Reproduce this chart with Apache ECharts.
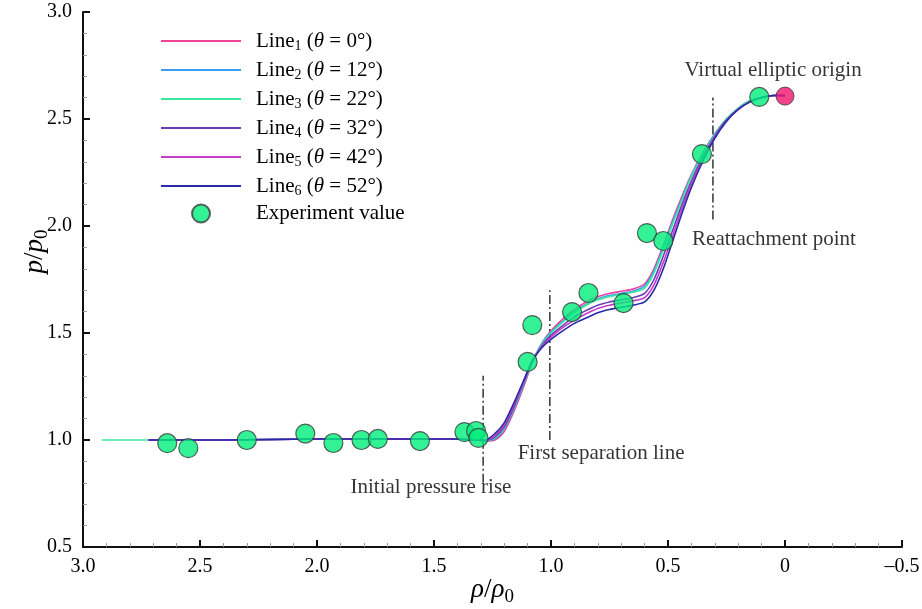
<!DOCTYPE html>
<html>
<head>
<meta charset="utf-8">
<script src="https://cdn.jsdelivr.net/npm/echarts@6/dist/echarts.min.js"></script>
<style>html,body{margin:0;padding:0;background:#fff}#c{width:922px;height:609px}</style>
</head>
<body>
<div id="c"></div>
<script>
// ---- data ----
var lineX = [2.72, 2.4, 2.0, 1.6, 1.4, 1.32, 1.28, 1.24, 1.2, 1.16, 1.12, 1.08, 1.04, 1.0, 0.95, 0.9, 0.85, 0.8, 0.75, 0.7, 0.65, 0.6, 0.56, 0.52, 0.48, 0.44, 0.4, 0.35, 0.3, 0.25, 0.2, 0.15, 0.1, 0.05, 0.0];
var line1 = [1.0,1.0,1.005,1.005,1.005,1.0,0.995,1.0,1.04,1.13,1.24,1.36,1.45,1.51,1.565,1.61,1.645,1.67,1.685,1.695,1.705,1.73,1.80,1.91,2.03,2.14,2.24,2.345,2.43,2.50,2.55,2.585,2.60,2.61,2.61];
var line2 = [1.0,1.0,1.005,1.005,1.005,1.0,0.997,1.005,1.05,1.14,1.25,1.365,1.45,1.505,1.555,1.60,1.635,1.66,1.675,1.685,1.695,1.72,1.79,1.90,2.02,2.13,2.235,2.34,2.43,2.50,2.55,2.585,2.60,2.61,2.61];
var line3 = [1.0,1.0,1.005,1.005,1.005,1.0,0.998,1.01,1.055,1.145,1.255,1.365,1.445,1.50,1.55,1.595,1.63,1.655,1.67,1.68,1.69,1.71,1.78,1.89,2.01,2.12,2.23,2.335,2.425,2.50,2.55,2.585,2.60,2.61,2.61];
var line4 = [1.0,1.0,1.005,1.005,1.005,1.0,0.998,1.015,1.06,1.15,1.26,1.365,1.44,1.49,1.535,1.575,1.605,1.63,1.645,1.655,1.665,1.685,1.75,1.86,1.98,2.10,2.21,2.325,2.42,2.495,2.545,2.58,2.60,2.61,2.61];
var line5 = [1.0,1.0,1.005,1.005,1.005,1.0,0.999,1.02,1.07,1.16,1.265,1.37,1.435,1.48,1.525,1.56,1.59,1.615,1.63,1.64,1.65,1.665,1.725,1.83,1.955,2.08,2.195,2.315,2.415,2.49,2.545,2.58,2.60,2.61,2.61];
var line6 = [1.0,1.0,1.005,1.005,1.005,1.0,1.0,1.03,1.08,1.17,1.27,1.37,1.43,1.47,1.51,1.545,1.57,1.595,1.61,1.62,1.63,1.645,1.70,1.80,1.93,2.06,2.18,2.305,2.41,2.49,2.545,2.58,2.60,2.61,2.61];
var line3Lead = [2.92, 1.0];

var lineNames = ['Line1','Line2','Line3','Line4','Line5','Line6'];
var lineAngles = ['0°','12°','22°','32°','42°','52°'];

var expX = [2.64, 2.55, 2.30, 2.05, 1.93, 1.81, 1.74, 1.56, 1.37, 1.32, 1.31, 1.10, 1.08, 0.91, 0.84, 0.69, 0.59, 0.52, 0.355, 0.11];
var expY = [0.985, 0.962, 1.0, 1.03, 0.986, 1.0, 1.005, 0.995, 1.037, 1.042, 1.01, 1.365, 1.537, 1.598, 1.687, 1.64, 1.967, 1.93, 2.336, 2.603];

var originX = [0.0];
var originY = [2.607];

var markerX = [1.29, 1.005, 0.308];
var markerYLow = [0.80, 1.0, 2.03];
var markerYHigh = [1.30, 1.70, 2.60];

var noteText = ['Initial pressure rise', 'First separation line', 'Reattachment point', 'Virtual elliptic origin'];
var noteX = [1.513, 0.786, 0.047, 0.051];
var noteY = [0.776, 0.939, 1.935, 2.729];

// ---- chart ----
var FONT = '"Liberation Serif", "DejaVu Serif", serif';
var colors = ['#f0449a', '#3d9cf0', '#3ee89c', '#6a3db8', '#c43cc8', '#2a2aa8'];
var ys = [line1, line2, line3, line4, line5, line6];

var series = [];
for (var k = 0; k < 6; k++) {
  var d = [];
  if (k === 2) d.push(line3Lead.slice());
  for (var i = 0; i < lineX.length; i++) d.push([lineX[i], ys[k][i]]);
  series.push({
    name: lineNames[k], type: 'line', data: d, smooth: 0.25,
    symbol: 'none', lineStyle: { color: colors[k], width: 1.6 }, itemStyle: { color: colors[k] },
    z: 3
  });
}
for (var m = 0; m < markerX.length; m++) {
  series.push({
    name: 'marker' + m, type: 'line', symbol: 'none', silent: true,
    data: [[markerX[m], markerYLow[m]], [markerX[m], markerYHigh[m]]],
    lineStyle: { color: '#333', width: 1.5, type: [9, 3, 2, 3] }, z: 2
  });
}
var expData = expX.map(function (x, i) { return [x, expY[i]]; });
series.push({
  name: 'Experiment value', type: 'scatter', data: expData, symbol: 'circle', symbolSize: 19,
  itemStyle: { color: '#00ee7a', borderColor: '#3a3a3a', borderWidth: 1.2 }, z: 5
});
series.push({
  name: 'origin', type: 'scatter', data: originX.map(function (x, i) { return [x, originY[i]]; }),
  symbol: 'circle', symbolSize: 18,
  itemStyle: { color: '#f0146e', borderColor: '#3a3a3a', borderWidth: 1 }, z: 5
});
series.push({
  name: 'notes', type: 'scatter', symbolSize: 0, silent: true,
  data: noteX.map(function (x, i) { return { value: [x, noteY[i]], name: noteText[i] }; }),
  label: { show: true, position: 'inside', formatter: '{b}', color: '#000', fontFamily: FONT, fontSize: 21,
           textBorderWidth: 0, textBorderColor: 'transparent' },
  z: 6
});

var legendRich = {
  n: { fontFamily: FONT, fontSize: 21, color: '#000', lineHeight: 22 },
  s: { fontFamily: FONT, fontSize: 14, color: '#000', lineHeight: 10, padding: [10, 0, 0, 0] },
  i: { fontFamily: FONT, fontSize: 21, fontStyle: 'italic', color: '#000', lineHeight: 22 }
};
var nameRich = {
  i: { fontFamily: FONT, fontSize: 27, fontStyle: 'italic', color: '#000', lineHeight: 30 },
  n: { fontFamily: FONT, fontSize: 27, color: '#000', lineHeight: 30 },
  s: { fontFamily: FONT, fontSize: 19, color: '#000', lineHeight: 12, padding: [14, 0, 0, 0] }
};

var chart = echarts.init(document.getElementById('c'), null, { renderer: 'canvas' });
chart.setOption({
  backgroundColor: '#ffffff',
  animation: false,
  grid: { left: 83, right: 20, top: 12, bottom: 62, containLabel: false, outerBoundsMode: 'none' },
  legend: {
    orient: 'vertical', left: 160, top: 29, padding: 0, itemWidth: 80, itemHeight: 18, itemGap: 5,
    data: lineNames.map(function (n) { return { name: n, itemStyle: { opacity: 0 } }; }).concat([{ name: 'Experiment value', icon: 'circle' }]),
    formatter: function (name) {
      var idx = lineNames.indexOf(name);
      if (idx < 0) return '{n|' + name + '}';
      return '{n|Line}{s|' + (idx + 1) + '}{n| (}{i|θ}{n| = ' + lineAngles[idx] + ')}';
    },
    textStyle: { rich: legendRich, padding: [0, 0, 0, 10] },
    selectedMode: false
  },
  xAxis: {
    type: 'value', inverse: true, min: -0.5, max: 3.0, interval: 0.5,
    name: '{i|ρ}{n|/}{i|ρ}{s|0}', nameLocation: 'middle', nameGap: 28, nameMoveOverlap: false,
    nameTextStyle: { rich: nameRich },
    axisLine: { show: true, onZero: false, lineStyle: { color: '#111', width: 2 } },
    axisTick: { show: true, inside: true, length: 7, lineStyle: { color: '#111', width: 2 } },
    minorTick: { show: true, splitNumber: 5, length: 4, lineStyle: { color: '#999', width: 1 } },
    splitLine: { show: false },
    axisLabel: {
      fontFamily: FONT, fontSize: 20, color: '#000', margin: 10,
      formatter: function (v) { if (Math.abs(v) < 1e-9) return '0'; if (v < 0) return '\u2013' + Math.abs(v).toFixed(1); return v.toFixed(1); }
    }
  },
  yAxis: {
    type: 'value', min: 0.5, max: 3.0, interval: 0.5,
    name: '{i|p}{n|/}{i|p}{s|0}', nameLocation: 'middle', nameGap: 33, nameRotate: 90, nameMoveOverlap: false,
    nameTextStyle: { rich: nameRich, padding: [0, 0, 0, 56] },
    axisLine: { show: true, onZero: false, lineStyle: { color: '#111', width: 2 } },
    axisTick: { show: true, inside: true, length: 7, lineStyle: { color: '#111', width: 2 } },
    minorTick: { show: true, splitNumber: 5, length: 4, lineStyle: { color: '#999', width: 1 } },
    splitLine: { show: false },
    axisLabel: { fontFamily: FONT, fontSize: 20, color: '#000', margin: 11, formatter: function (v) { return v.toFixed(1); } }
  },
  series: series
});
</script>
</body>
</html>
